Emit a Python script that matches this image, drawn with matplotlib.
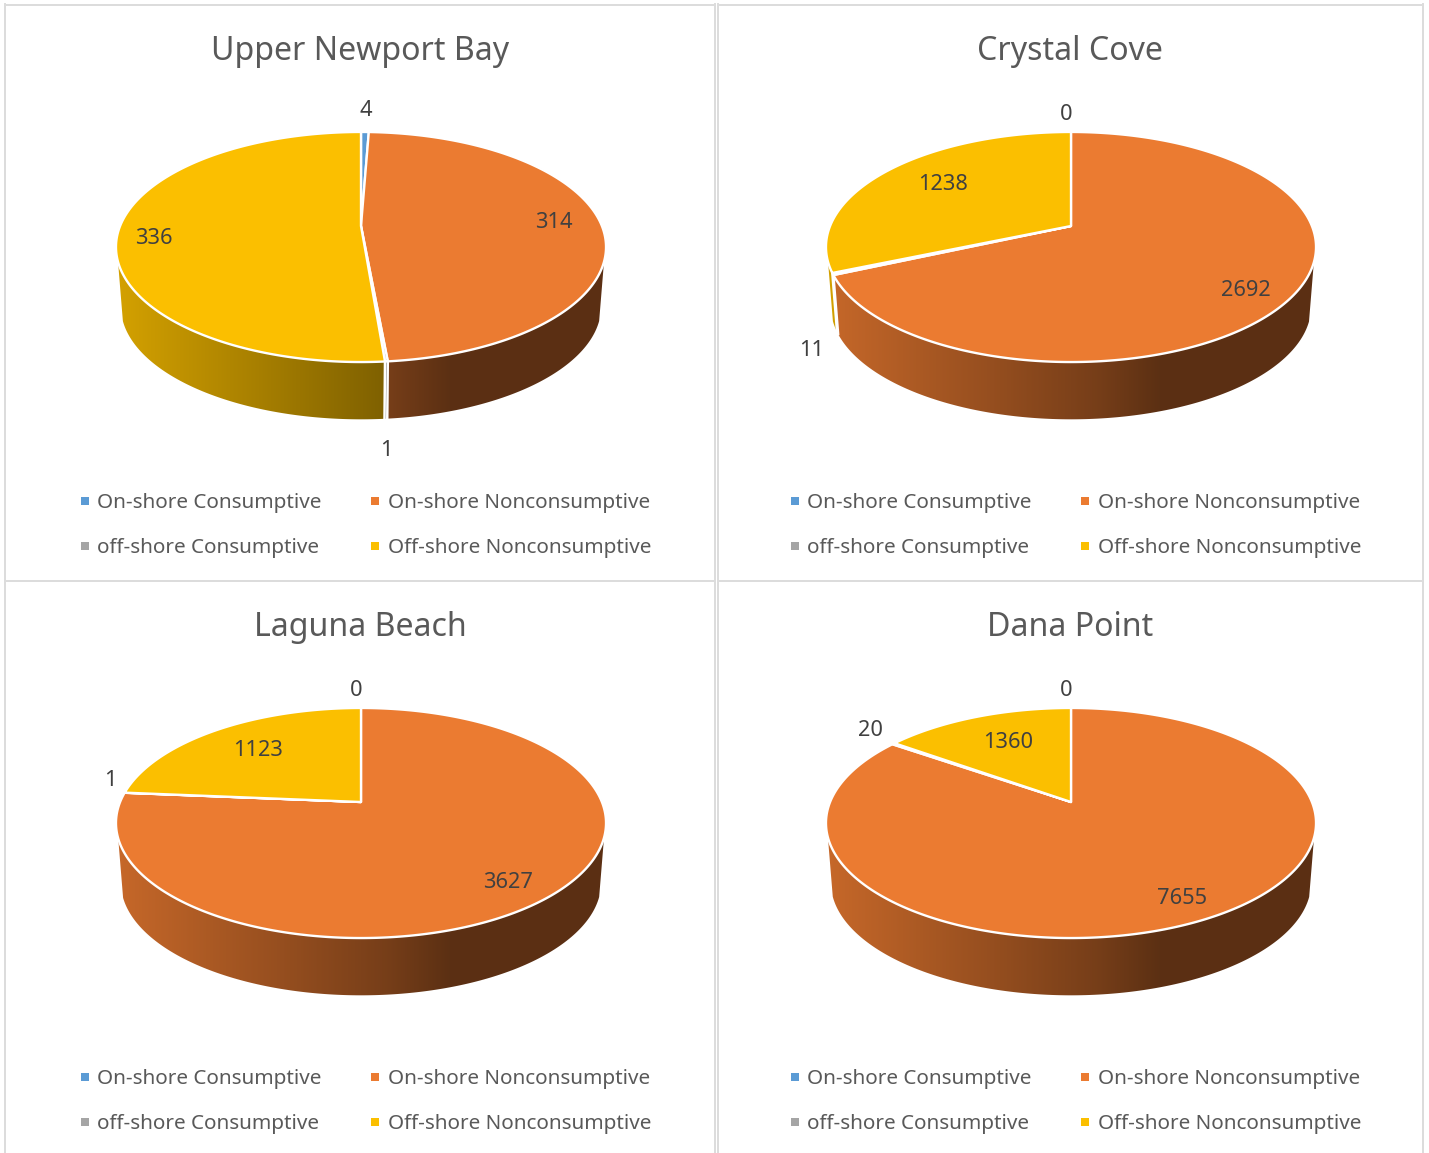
import numpy as np
import matplotlib
matplotlib.use("Agg")
import matplotlib.pyplot as plt
from matplotlib.patches import Polygon

# data
SITES = ["Upper Newport Bay", "Crystal Cove", "Laguna Beach", "Dana Point"]
CATEGORIES = ["On-shore Consumptive", "On-shore Nonconsumptive",
              "off-shore Consumptive", "Off-shore Nonconsumptive"]
UPPER_NEWPORT = [4, 314, 1, 336]
CRYSTAL_COVE = [0, 2692, 11, 1238]
LAGUNA_BEACH = [0, 3627, 1, 1123]
DANA_POINT = [0, 7655, 20, 1360]
SERIES = [UPPER_NEWPORT, CRYSTAL_COVE, LAGUNA_BEACH, DANA_POINT]

COLORS = ["#5B9BD5", "#EB7B31", "#A5A5A5", "#FBBF00"]

# layout, pixels of the panel (top left panel), y going down
PANEL_DX = 710
PANEL_DY = 576
CX = 361
APEX_Y = 226
A = 240.9
B = 111.2
K = 0.1826
WALL_DROP = 60
WALL_SCALE = 0.98
WALL_MIN_Y = 0.3  # wall only shows in front of this point of the rim

# data label centres, one per category per panel
LABEL_POS = [
    [(366, 108), (554, 221), (386, 449), (154, 236)],
    [(356, 113), (536, 289), (102, 348), (233, 182)],
    [(356, 113), (508, 304), (110, 202), (258, 172)],
    [(356, 113), (472, 320), (160, 152), (298, 164)],
]

plt.rcParams['font.family'] = ['Noto Sans', 'DejaVu Sans']


def ring(theta, cx, cy, scale=1.0):
    # circle seen in perspective, theta clockwise from the top
    x = np.sin(theta)
    y = -np.cos(theta)
    w = 1 - K * y
    return cx + scale * A * x / w, cy + scale * B * y / w


def wall_shade(x):
    return np.interp(x, [120, 390, 450], [0.84, 0.50, 0.39])


def draw_pie(ax, values, dx, dy):
    cx = CX + dx
    cy = APEX_Y + dy
    bottom_cy = cy + WALL_DROP
    edges = np.cumsum([0] + values) / sum(values) * 2 * np.pi

    # side wall, one polygon per slice filled with a left to right gradient
    for i, v in enumerate(values):
        if v == 0:
            continue
        t = np.linspace(edges[i], edges[i + 1], 361)
        t = t[-np.cos(t) > WALL_MIN_Y]
        if len(t) < 2:
            continue
        tx, ty = ring(t, cx, cy)
        bx, by = ring(t[::-1], cx, bottom_cy, WALL_SCALE)
        xs = np.r_[tx, bx]
        ys = np.r_[ty, by]
        grad_x = np.arange(np.floor(xs.min()) - 1, np.ceil(xs.max()) + 2)
        base = np.array(matplotlib.colors.to_rgb(COLORS[i]))
        grad = wall_shade(grad_x - dx)[None, :, None] * base
        im = ax.imshow(grad, extent=[grad_x[0], grad_x[-1], ys.max() + 1, ys.min() - 1],
                       aspect="auto", interpolation="bilinear", zorder=2)
        clip = Polygon(np.c_[xs, ys], closed=True, transform=ax.transData)
        im.set_clip_path(clip)

    # white seams on the wall where slices meet
    for i, v in enumerate(values):
        if v == 0 or -np.cos(edges[i]) < WALL_MIN_Y:
            continue
        tx, ty = ring(edges[i], cx, cy)
        bx, by = ring(edges[i], cx, bottom_cy, WALL_SCALE)
        ax.plot([tx, bx], [ty, by], color="white", lw=1.8, zorder=3)

    # top face
    for i, v in enumerate(values):
        if v == 0:
            continue
        n = max(3, int(np.degrees(edges[i + 1] - edges[i])) * 2)
        t = np.linspace(edges[i], edges[i + 1], n)
        x, y = ring(t, cx, cy)
        ax.fill(np.r_[cx, x], np.r_[cy, y], facecolor=COLORS[i], edgecolor="white",
                lw=1.7, joinstyle="round", zorder=4)


fig = plt.figure(figsize=(1429 / 100, 1153 / 100), dpi=100)
ax = fig.add_axes([0, 0, 1, 1])

# panel borders
for x in [5.5, 715.5, 718, 1423]:
    ax.plot([x, x], [4, 1153], color="#DCDCDC", lw=1.4, zorder=1)
for x0, x1 in [(5.5, 715.5), (718, 1423)]:
    ax.plot([x0, x1], [4.5, 4.5], color="#DCDCDC", lw=1.4, zorder=1)
    ax.plot([x0, x1], [580.5, 580.5], color="#DCDCDC", lw=1.4, zorder=1)

for p, (site, values) in enumerate(zip(SITES, SERIES)):
    dx = PANEL_DX * (p % 2)
    dy = PANEL_DY * (p // 2)
    draw_pie(ax, values, dx, dy)
    ax.text(360 + dx, 51 + dy, site, ha="center", va="center", fontsize=23.1, color="#595959")
    for val, (lx, ly) in zip(values, LABEL_POS[p]):
        ax.text(lx + dx, ly + 2 + dy, str(val), ha="center", va="center", fontsize=15.7,
                color="#404040", zorder=6)
    # legend, two rows of two
    for i, name in enumerate(CATEGORIES):
        col_x = 85 if i % 2 == 0 else 375
        row_y = 501 if i < 2 else 546
        ax.scatter([col_x + dx], [row_y + dy], marker="s", s=30, color=COLORS[i], lw=0, zorder=5)
        ax.text(col_x + 12 + dx + (1 if i % 2 else 0), row_y + 2 + dy, name, ha="left", va="center",
                fontsize=14.9, color="#595959")

ax.set_xlim(0, 1429)
ax.set_ylim(1153, 0)
ax.axis("off")

fig.savefig("out.png", dpi=100, facecolor="white")
